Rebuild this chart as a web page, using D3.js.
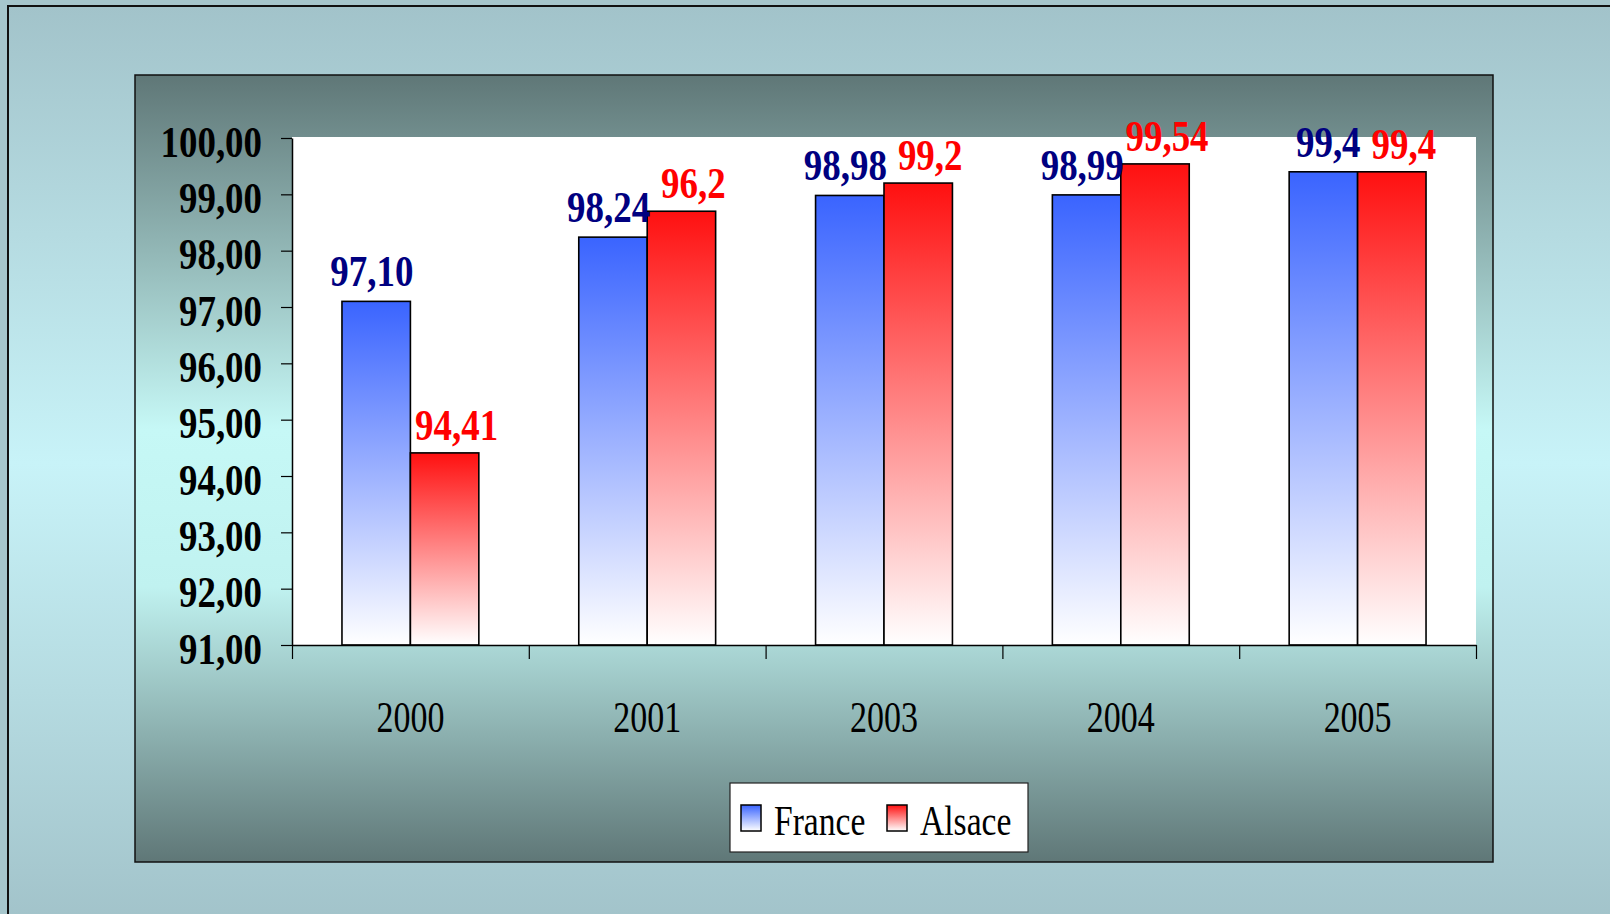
<!DOCTYPE html>
<html>
<head>
<meta charset="utf-8">
<script src="https://cdn.jsdelivr.net/npm/d3@7"></script>
<style>
  html, body { margin: 0; padding: 0; background: #a6c6cc; }
  svg { display: block; }
</style>
</head>
<body>
<script>
// ---- data ----
const categories = ["2000", "2001", "2003", "2004", "2005"];
const seriesNames = ["France", "Alsace"];
const franceValues = [97.10, 98.24, 98.98, 98.99, 99.40];
const alsaceValues = [94.41, 98.70, 99.20, 99.54, 99.40];
const franceLabels = ["97,10", "98,24", "98,98", "98,99", "99,4"];
const alsaceLabels = ["94,41", "96,2", "99,2", "99,54", "99,4"];
const yTickValues = [91, 92, 93, 94, 95, 96, 97, 98, 99, 100];

// ---- layout ----
const W = 1610, H = 914;
const plot = { left: 292, right: 1476, top: 138, bottom: 645 };
const FONT = "'Liberation Serif', 'Times New Roman', serif";

const svg = d3.select("body").append("svg").attr("width", W).attr("height", H);
const defs = svg.append("defs");

function vGrad(id, stops) {
  const g = defs.append("linearGradient").attr("id", id)
    .attr("x1", 0).attr("y1", 0).attr("x2", 0).attr("y2", 1);
  stops.forEach(([o, c]) => g.append("stop").attr("offset", o).attr("stop-color", c));
}
vGrad("bgGrad", [[0, "#a2c3ca"], [0.5, "#c8f3f8"], [1, "#a2c3ca"]]);
vGrad("panelGrad", [[0, "#5f7777"], [0.45, "#c6f8f6"], [0.65, "#c0f2f0"], [1, "#5f7777"]]);
vGrad("franceGrad", [[0, "#3a64ff"], [1, "#ffffff"]]);
vGrad("alsaceGrad", [[0, "#ff1010"], [1, "#ffffff"]]);
const fills = { France: "url(#franceGrad)", Alsace: "url(#alsaceGrad)" };

// outer background frame
svg.append("rect").attr("x", 8).attr("y", 6).attr("width", W).attr("height", H)
  .attr("fill", "url(#bgGrad)").attr("stroke", "#111").attr("stroke-width", 2);

// chart panel
svg.append("rect").attr("x", 135).attr("y", 75).attr("width", 1358).attr("height", 787)
  .attr("fill", "url(#panelGrad)").attr("stroke", "#111").attr("stroke-width", 1.5);

// scales
const y = d3.scaleLinear().domain([91, 100]).range([plot.bottom, plot.top]);
const x = d3.scaleBand().domain(categories).range([plot.left, plot.right])
  .paddingInner(0.422).paddingOuter(0.211);
const xs = d3.scaleBand().domain(seriesNames).range([0, x.bandwidth()]);
const xIdx = d3.scaleLinear().domain([0, categories.length]).range([plot.left, plot.right]);

// plot area
svg.append("rect").attr("x", plot.left).attr("y", y(100) - 1)
  .attr("width", plot.right - plot.left).attr("height", plot.bottom - y(100) + 1)
  .attr("fill", "#ffffff");

// bars
const rows = categories.map((c, i) => ({
  cat: c,
  vals: [
    { s: "France", v: franceValues[i], lab: franceLabels[i] },
    { s: "Alsace", v: alsaceValues[i], lab: alsaceLabels[i] }
  ]
}));
const groups = svg.append("g").selectAll("g").data(rows).join("g")
  .attr("transform", d => `translate(${x(d.cat)},0)`);
groups.selectAll("rect").data(d => d.vals).join("rect")
  .attr("x", d => xs(d.s))
  .attr("y", d => y(d.v))
  .attr("width", xs.bandwidth())
  .attr("height", d => y(91) - y(d.v))
  .attr("fill", d => fills[d.s])
  .attr("stroke", "#000").attr("stroke-width", 1.6);

// data labels
const labSX = 0.84;
groups.selectAll("text").data(d => d.vals).join("text")
  .attr("transform", d => {
    if (d.s === "France") {
      return `translate(${xs(d.s) + xs.bandwidth() + 3},${y(d.v) - 15}) scale(${labSX},1)`;
    }
    return `translate(${xs(d.s) + xs.bandwidth() / 2 + 12},${y(d.v) - 13}) scale(${labSX},1)`;
  })
  .attr("text-anchor", d => d.s === "France" ? "end" : "middle")
  .attr("font-family", FONT).attr("font-weight", "bold").attr("font-size", 44)
  .attr("fill", d => d.s === "France" ? "#000080" : "#ff0000")
  .text(d => d.lab);

// y axis
const yAxis = svg.append("g").attr("transform", `translate(${plot.left},0)`)
  .call(d3.axisLeft(y).tickValues(yTickValues).tickSizeInner(11).tickSizeOuter(0)
    .tickFormat(d => d.toFixed(2).replace(".", ",")));
yAxis.select(".domain").attr("stroke", "#000").attr("stroke-width", 1.5);
yAxis.selectAll(".tick line").attr("stroke", "#000").attr("stroke-width", 1.2);
yAxis.selectAll(".tick text")
  .attr("x", null).attr("dy", null).attr("y", 18)
  .attr("transform", "translate(-30,0) scale(0.82,1)")
  .attr("text-anchor", "end")
  .attr("font-family", FONT).attr("font-weight", "bold").attr("font-size", 45)
  .attr("fill", "#000");

// x axis (ticks at category boundaries)
const xAxis = svg.append("g").attr("transform", `translate(0,${plot.bottom})`)
  .call(d3.axisBottom(xIdx).tickValues(d3.range(categories.length + 1))
    .tickSizeInner(14).tickSizeOuter(0).tickFormat(""));
xAxis.select(".domain").attr("stroke", "#000").attr("stroke-width", 1.5);
xAxis.selectAll(".tick line").attr("stroke", "#000").attr("stroke-width", 1.2);

// category labels
svg.append("g").selectAll("text").data(categories).join("text")
  .attr("transform", d => `translate(${x(d) + x.bandwidth() / 2},732) scale(0.755,1)`)
  .attr("text-anchor", "middle")
  .attr("font-family", FONT).attr("font-size", 45).attr("fill", "#000")
  .text(d => d);

// legend
const legend = svg.append("g");
legend.append("rect").attr("x", 730).attr("y", 783).attr("width", 298).attr("height", 69)
  .attr("fill", "#fff").attr("stroke", "#222").attr("stroke-width", 1.2);
const legendItems = [
  { s: "France", sx: 741, tx: 774 },
  { s: "Alsace", sx: 887, tx: 920 }
];
legend.selectAll("rect.sw").data(legendItems).join("rect").attr("class", "sw")
  .attr("x", d => d.sx).attr("y", 805).attr("width", 20).attr("height", 26)
  .attr("fill", d => fills[d.s]).attr("stroke", "#000").attr("stroke-width", 1.5);
legend.selectAll("text").data(legendItems).join("text")
  .attr("transform", d => `translate(${d.tx},835) scale(0.8,1)`)
  .attr("font-family", FONT).attr("font-size", 42).attr("fill", "#000")
  .text(d => d.s);
</script>
</body>
</html>
